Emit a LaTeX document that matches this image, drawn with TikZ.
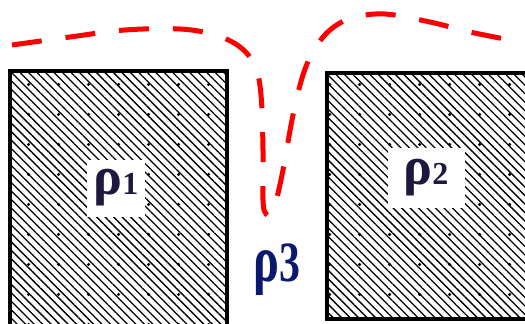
\documentclass[tikz,border=0pt]{standalone}
\usepackage{fontspec}
\setmainfont{Liberation Serif}
\usetikzlibrary{patterns.meta}
\definecolor{labnavy}{RGB}{30,25,60}
\definecolor{labblue}{RGB}{10,25,110}
\definecolor{curvered}{RGB}{255,0,0}
\tikzset{
  hatch/.style={pattern={Lines[angle=-45,distance=6pt,line width=1.3pt]}, pattern color=black},
  blockdots/.style={pattern={Dots[distance=30pt,radius=1.8pt]}, pattern color=black},
  border/.style={line width=3.5pt},
  lab/.style={fill=white, inner sep=0pt, text=labnavy},
  redcurve/.style={draw=curvered, line width=5pt, dash pattern=on 30pt off 24pt},
}
\begin{document}
\begin{tikzpicture}[x=1pt,y=-1pt]
\useasboundingbox (0,0) rectangle (525,324);
% left block (open at bottom)
\fill[blockdots] (10,71) rectangle (227,330);
\fill[hatch] (10,71) rectangle (227,330);
\draw[border] (10,340) -- (10,71) -- (227,71) -- (227,340);
% right block (open at right)
\fill[blockdots] (327,73) rectangle (530,319);
\fill[hatch] (327,73) rectangle (530,319);
\draw[border] (540,73) -- (327,73) -- (327,319) -- (540,319);
% labels
\node[lab, minimum width=58pt, minimum height=57pt] (r1) at (116,188)
  {\bfseries\fontsize{54}{54}\selectfont ρ\fontsize{32}{32}\selectfont 1};
\node[lab, minimum width=77pt, minimum height=60pt] (r2) at (426,178)
  {\bfseries\fontsize{54}{54}\selectfont ρ\fontsize{32}{32}\selectfont 2};
\node[inner sep=0pt, text=labblue] (r3) at (277,270)
  {\scalebox{1.1}[1.5]{\fontsize{44}{44}\bfseries\selectfont ρ\fontsize{38}{38}\bfseries\selectfont 3}};
% dashed curve
\draw[redcurve] plot[smooth, tension=0.6] coordinates {
  (12,45) (70,37) (125,30) (180,29) (215,35) (240,47) (255,66) (261,95)
  (263,150) (263,200) (266,214) (273,211) (282,175) (293,115) (303,75)
  (314,50) (330,30) (352,18) (385,14) (430,22) (470,32) (510,40)};
\end{tikzpicture}
\end{document}
